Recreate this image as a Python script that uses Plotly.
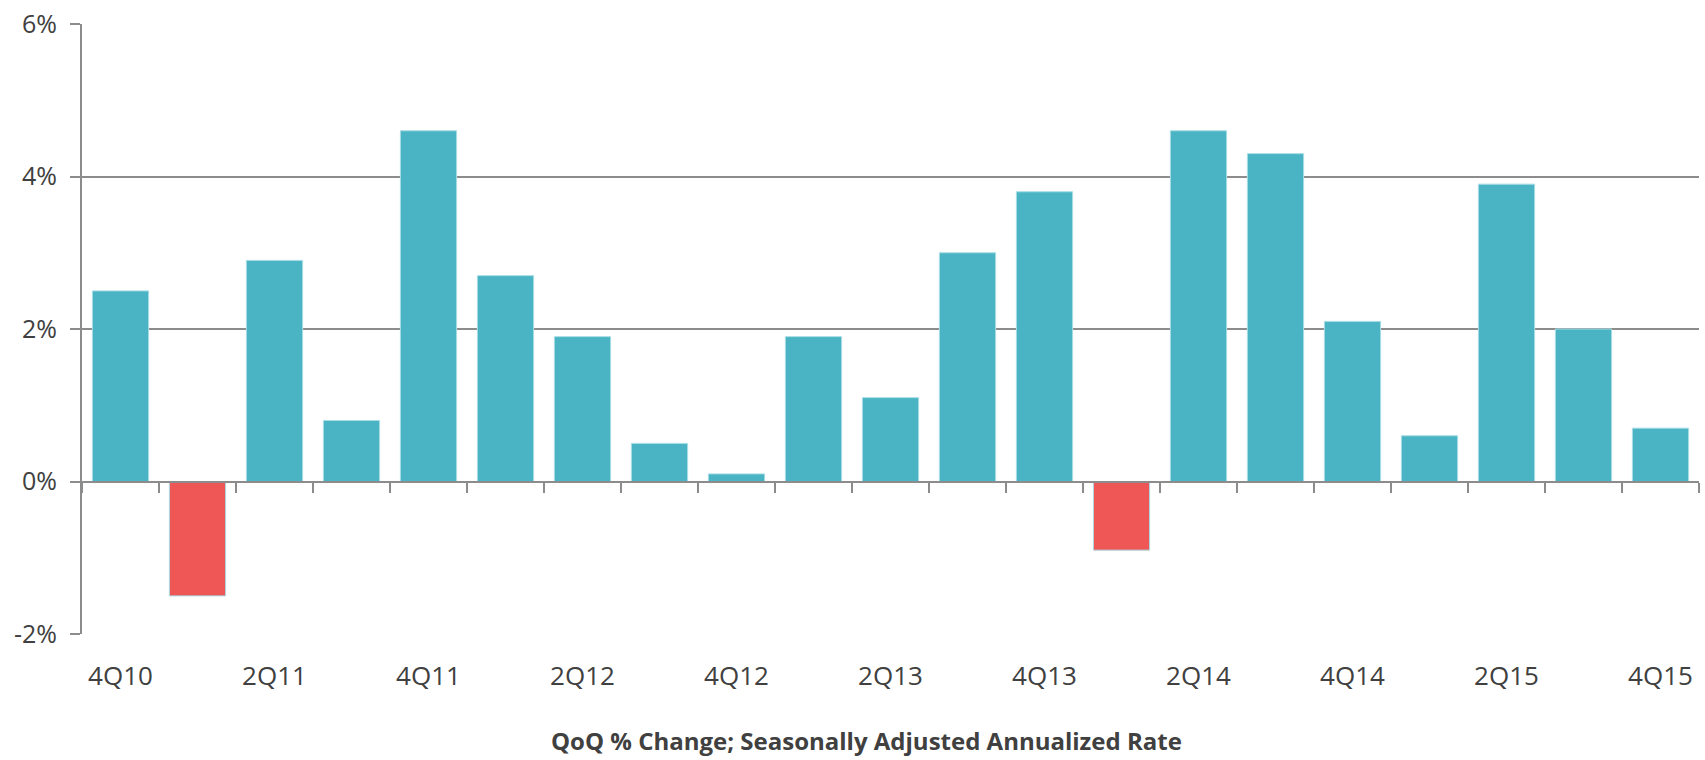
import plotly.graph_objects as go

quarters = ["4Q10", "1Q11", "2Q11", "3Q11", "4Q11", "1Q12", "2Q12", "3Q12", "4Q12",
            "1Q13", "2Q13", "3Q13", "4Q13", "1Q14", "2Q14", "3Q14", "4Q14",
            "1Q15", "2Q15", "3Q15", "4Q15"]
qoq_change = [2.5, -1.5, 2.9, 0.8, 4.6, 2.7, 1.9, 0.5, 0.1,
              1.9, 1.1, 3.0, 3.8, -0.9, 4.6, 4.3, 2.1,
              0.6, 3.9, 2.0, 0.7]
label_quarters = quarters[::2]
y_ticks = [-2, 0, 2, 4, 6]
y_tick_text = ["-2%", "0%", "2%", "4%", "6%"]
title_text = "QoQ % Change; Seasonally Adjusted Annualized Rate"

POS = "#4BB4C4"
NEG = "#EF5656"
GRID = "#8C8C8C"
TXT = "#404040"

colors = [POS if v >= 0 else NEG for v in qoq_change]

fig = go.Figure()
fig.add_trace(go.Bar(x=quarters, y=qoq_change, marker_color=colors,
                     marker_line=dict(color="#A8DDE5", width=1),
                     xaxis="x", yaxis="y", showlegend=False))
fig.add_trace(go.Bar(x=quarters, y=qoq_change, opacity=0, xaxis="x2", yaxis="y",
                     showlegend=False, hoverinfo="skip"))

fig.update_layout(
    width=1705, height=760,
    margin=dict(l=82, r=6, t=19, b=126),
    paper_bgcolor="white", plot_bgcolor="white",
    bargap=0.27,
    font=dict(family="Open Sans", color=TXT, size=25),
    xaxis=dict(
        type="category", categoryorder="array", categoryarray=quarters,
        range=[-0.5, len(quarters) - 0.5],
        tickmode="array", tickvals=label_quarters, ticktext=label_quarters,
        ticks="outside", ticklen=19, tickcolor="rgba(0,0,0,0)",
        showline=False, showgrid=False, zeroline=False,
        tickfont=dict(size=26, color=TXT),
    ),
    xaxis2=dict(
        type="category", categoryorder="array", categoryarray=quarters,
        range=[-0.5, len(quarters) - 0.5],
        overlaying="x", anchor="free", position=0.25,
        showline=True, linecolor=GRID, linewidth=2,
        ticks="outside", tickson="boundaries", ticklen=10, tickcolor=GRID, tickwidth=2,
        showticklabels=False, showgrid=False, zeroline=False,
    ),
    yaxis=dict(
        range=[-2, 6], tickmode="array", tickvals=y_ticks, ticktext=y_tick_text,
        showgrid=True, gridcolor=GRID, gridwidth=2,
        showline=True, linecolor=GRID, linewidth=2,
        ticks="outside", ticklen=10, tickcolor=GRID, tickwidth=2,
        ticklabelstandoff=8,
        zeroline=False, tickfont=dict(size=25, color=TXT),
    ),
    annotations=[dict(
        text="<b>" + title_text + "</b>", xref="paper", yref="paper",
        x=0.485, y=-0.175, xanchor="center", yanchor="middle", showarrow=False,
        font=dict(family="Open Sans", size=24, color=TXT),
    )],
)

fig.write_html("out.html", config={"displayModeBar": False},
               post_script="document.body.style.margin='0';document.body.style.overflow='hidden';")
